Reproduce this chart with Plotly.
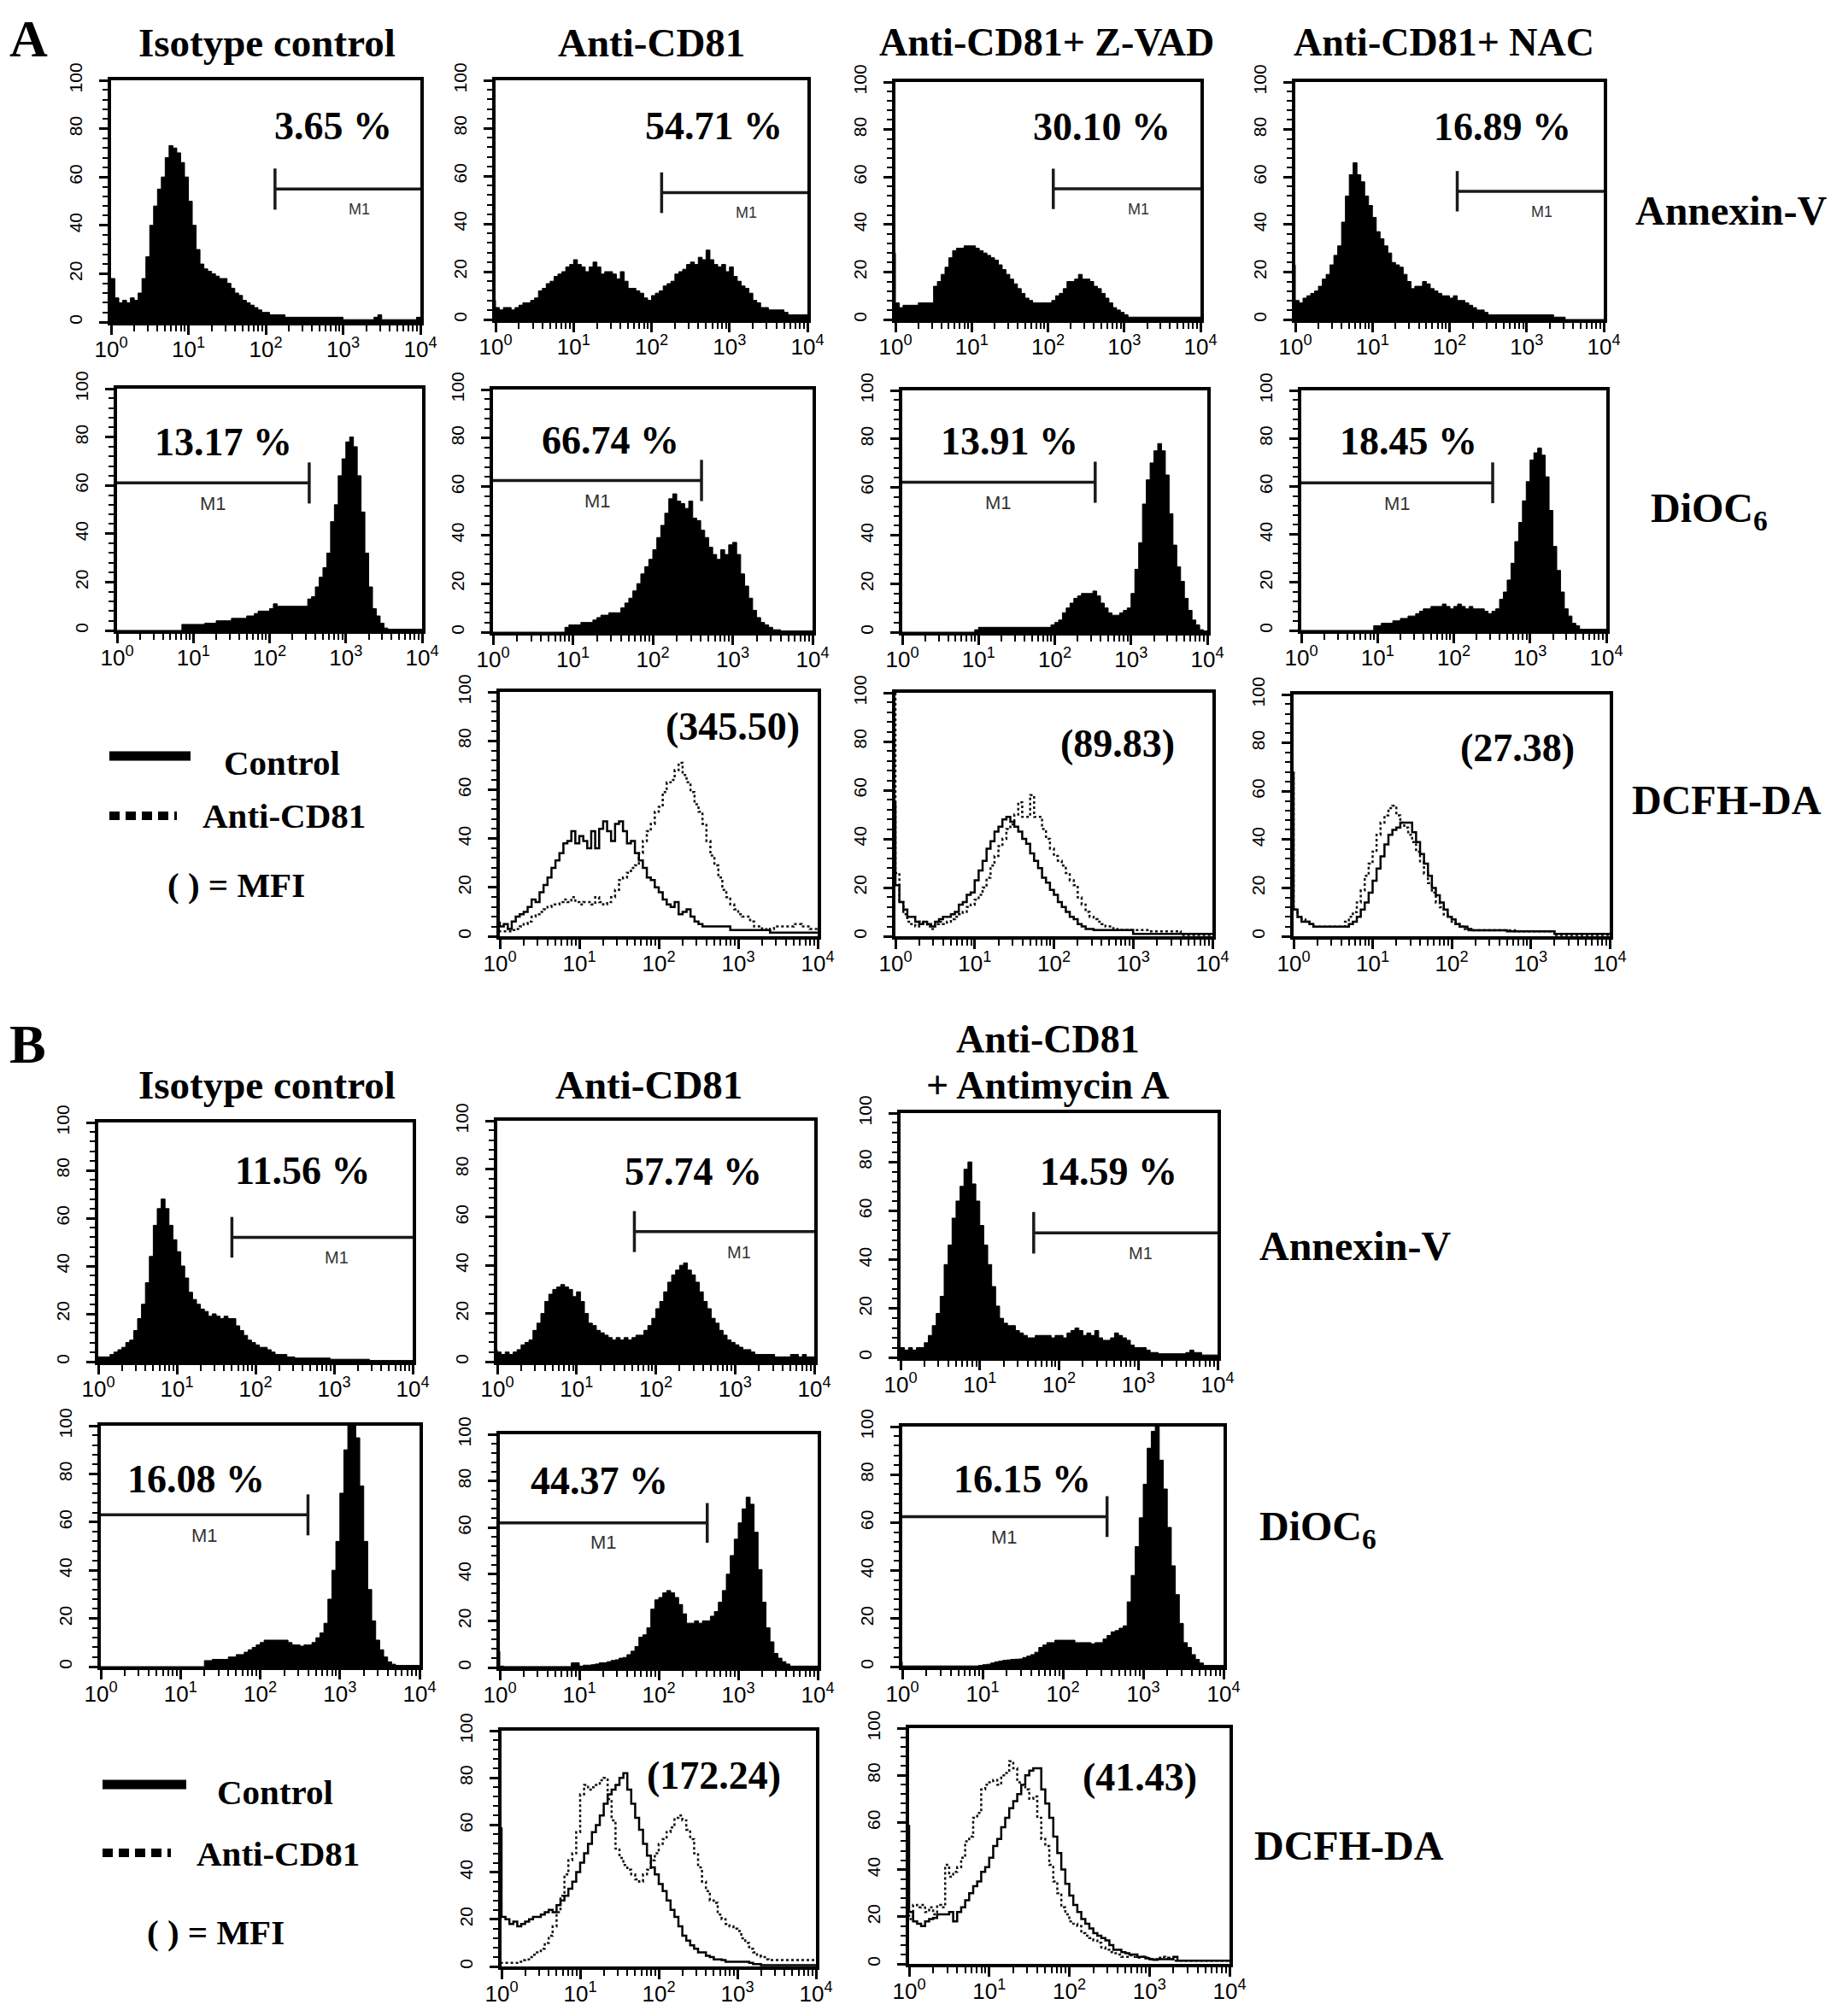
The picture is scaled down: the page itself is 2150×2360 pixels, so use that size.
import plotly.graph_objects as go

W, H = 2150, 2360          # browser window
OFF = 8                    # default page margin around the plot div
FW, FH = W - 18, H - 18    # figure size that fits inside the window without scrollbars

# channel positions on the log10 fluorescence scale (0.05 decade bins, 10^0 .. 10^4)
LOG_CH = [round(0.05 * i, 2) for i in range(81)]
DECADES = [1, 10, 100, 1000, 10000]
DECADE_TEXT = ["10<sup>0</sup>", "10<sup>1</sup>", "10<sup>2</sup>", "10<sup>3</sup>", "10<sup>4</sup>"]
COUNT_TICKS = [0, 20, 40, 60, 80, 100]

# ---------------- panel A : Annexin-V (filled histograms) ----------------
A_ANNEXIN_ISO = [
    10, 18, 10, 8, 9, 8, 10, 9, 12, 18,
    27, 40, 48, 55, 60, 68, 73, 72, 70, 66,
    60, 50, 40, 30, 24, 22, 21, 20, 19, 18,
    18, 16, 14, 12, 11, 9, 8, 7, 6, 5,
    4, 4, 3, 3, 3, 3, 2, 2, 2, 2,
    2, 2, 2, 2, 2, 2, 2, 2, 2, 2,
    2, 1, 1, 1, 1, 1, 1, 1, 1, 2,
    3, 1, 1, 1, 1, 1, 1, 1, 1, 1,
    2]
A_ANNEXIN_CD81 = [
    8, 5, 4, 5, 5, 4, 5, 6, 7, 7,
    8, 9, 12, 13, 15, 16, 18, 19, 20, 22,
    23, 25, 23, 22, 20, 22, 24, 22, 19, 20,
    20, 19, 17, 20, 16, 13, 13, 12, 11, 9,
    8, 10, 11, 12, 14, 15, 16, 19, 20, 21,
    23, 24, 23, 26, 25, 29, 25, 23, 22, 23,
    20, 22, 18, 16, 14, 13, 11, 8, 7, 5,
    5, 4, 4, 4, 4, 3, 2, 2, 2, 2,
    2]
A_ANNEXIN_ZVAD = [
    28, 7, 5, 6, 6, 6, 6, 7, 7, 7,
    7, 14, 16, 19, 22, 26, 29, 30, 30, 31,
    31, 31, 30, 29, 28, 27, 26, 25, 23, 21,
    19, 17, 15, 13, 11, 9, 8, 7, 7, 7,
    7, 7, 8, 10, 11, 13, 16, 16, 17, 19,
    17, 17, 16, 14, 13, 11, 9, 7, 5, 4,
    3, 2, 1, 1, 1, 1, 1, 1, 1, 1,
    1, 1, 1, 1, 1, 1, 1, 1, 1, 1,
    1]
A_ANNEXIN_NAC = [
    23, 8, 7, 9, 10, 11, 12, 14, 17, 19,
    23, 27, 31, 41, 52, 61, 66, 61, 58, 52,
    48, 43, 37, 34, 31, 28, 24, 23, 22, 19,
    16, 13, 14, 14, 16, 15, 13, 12, 11, 10,
    10, 9, 10, 8, 8, 7, 6, 5, 4, 4,
    3, 2, 2, 2, 2, 2, 2, 2, 2, 2,
    2, 2, 2, 2, 2, 2, 2, 2, 1, 1,
    1, 0, 0, 0, 0, 0, 0, 0, 0, 0,
    0]

# ---------------- panel A : DiOC6 (filled histograms) ----------------
A_DIOC6_ISO = [
    0, 0, 0, 0, 0, 0, 0, 0, 0, 0,
    0, 0, 0, 0, 0, 0, 0, 0, 2.5, 2.5,
    2.5, 2.5, 2.5, 2.5, 3, 3, 3, 4, 4, 4,
    4, 5, 5, 5, 5, 6, 6, 7, 8, 8,
    8, 9, 11, 10, 10, 10, 10, 10, 10, 10,
    10, 13, 14, 18, 22, 26, 32, 45, 52, 64,
    71, 78, 80, 76, 64, 49, 32, 18, 9, 6,
    3, 1, 0.5, 0.5, 0.5, 0.5, 0.5, 0.5, 0.5, 0.5,
    0.5]
A_DIOC6_CD81 = [
    0, 0, 0, 0, 0, 0, 0, 0, 0, 0,
    0, 0, 0, 0, 0, 0, 0, 0, 0, 2,
    3, 3, 3, 4, 4, 4, 5, 6, 7, 7,
    8, 8, 8, 10, 12, 14, 17, 20, 24, 27,
    30, 34, 39, 44, 49, 55, 57, 54, 53, 51,
    54, 47, 46, 42, 39, 35, 32, 30, 34, 32,
    36, 37, 32, 24, 19, 14, 9, 6, 4, 3,
    2, 1, 1, 0.5, 0.5, 0.5, 0.5, 0.5, 0.5, 0.5,
    0.5]
A_DIOC6_ZVAD = [
    0, 0, 0, 0, 0, 0, 0, 0, 0, 0,
    0, 0, 0, 0, 0, 0, 0, 0, 0, 0,
    1, 2, 2, 2, 2, 2, 2, 2, 2, 2,
    2, 2, 2, 2, 2, 2, 2, 2, 2, 2,
    3, 4, 5, 8, 10, 12, 14, 15, 16, 16,
    16, 17, 15, 12, 10, 8, 7, 7, 8, 9,
    10, 16, 26, 37, 53, 63, 70, 75, 78, 75,
    65, 49, 36, 27, 21, 14, 9, 5, 3, 1,
    0.5]
A_DIOC6_NAC = [
    0, 0, 0, 0, 0, 0, 0, 0, 0, 0,
    0, 0, 0, 0, 0, 0, 0, 0, 0, 0,
    2, 2, 3, 3, 3, 4, 4, 5, 5, 6,
    6, 7, 8, 9, 9, 10, 10, 10, 11, 10,
    9, 10, 11, 10, 9, 10, 9, 9, 9, 8,
    7, 8, 9, 13, 16, 21, 28, 37, 45, 54,
    62, 71, 74, 76, 73, 64, 50, 35, 25, 16,
    9, 6, 3, 2, 0.5, 0.5, 0.5, 0.5, 0.5, 0.5,
    0.5]

# ---------------- panel A : DCFH-DA (control = solid, anti-CD81 = dotted) ----------------
A_DCFH_CD81_CTRL = [
    6, 4, 5, 3, 6, 8, 9, 10, 12, 15,
    14, 18, 21, 24, 28, 31, 34, 38, 39, 43,
    38, 41, 39, 36, 43, 36, 44, 47, 43, 39,
    46, 47, 43, 38, 39, 34, 31, 28, 24, 23,
    20, 18, 15, 13, 12, 14, 9, 10, 11, 8,
    6, 5, 4, 4, 4, 4, 4, 4, 4, 2.5,
    2.5, 2.5, 2.5, 2.5, 2.5, 2.5, 2.5, 2.5, 2.5, 1.5,
    1.5, 1.5, 1.5, 1.5, 1.5, 1.5, 1.5, 1.5, 1.5, 1.5,
    1.5]
A_DCFH_CD81_TRT = [
    2.5, 2, 2, 2, 2.5, 3, 4, 5, 6, 8,
    9, 10, 11, 12, 13, 13, 14, 15, 14, 16,
    14, 13, 14, 14, 13, 16, 14, 13, 14, 16,
    19, 23, 24, 26, 28, 29, 34, 39, 43, 46,
    51, 53, 59, 63, 64, 68, 71, 66, 63, 59,
    54, 51, 46, 39, 33, 29, 24, 19, 16, 13,
    11, 9, 8, 8, 6, 4, 4, 3, 2.5, 3,
    4, 4, 4, 4, 4, 5, 5, 4, 4, 3,
    3]
A_DCFH_ZVAD_CTRL = [
    55, 21, 14, 11, 8, 8, 6, 5, 6, 5,
    4, 6, 7, 8, 8, 9, 10, 13, 14, 17,
    18, 23, 27, 31, 36, 39, 43, 45, 48, 49,
    47, 45, 43, 40, 38, 34, 31, 28, 24, 22,
    19, 17, 14, 12, 10, 8, 7, 5, 4, 3,
    3, 2.5, 2.5, 2.5, 2.5, 2.5, 2.5, 2.5, 2.5, 2.5,
    2.5, 1, 1, 1, 1, 1, 1, 1, 1, 1,
    1, 1, 1, 1, 1, 1, 1, 1, 1, 1,
    1]
A_DCFH_ZVAD_TRT = [
    100, 26, 14, 9, 6, 5, 4, 6, 5, 4,
    3, 5, 6, 5, 6, 7, 8, 9, 10, 12,
    13, 15, 17, 20, 24, 29, 33, 37, 40, 44,
    46, 50, 55, 49, 49, 58, 49, 49, 44, 40,
    36, 33, 31, 29, 26, 23, 21, 16, 13, 10,
    8, 7, 6, 5, 4, 4, 3, 2.5, 2.5, 2.5,
    2.5, 2.5, 2.5, 2.5, 2.5, 2, 2, 2, 2, 2,
    2, 2, 2, 0.5, 0.5, 0.5, 0.5, 0.5, 0.5, 0.5,
    0.5]
A_DCFH_NAC_CTRL = [
    68, 11, 8, 6, 6, 5, 4, 4, 4, 4,
    4, 4, 4, 4, 4, 5, 6, 8, 11, 14,
    18, 23, 28, 33, 38, 42, 44, 45, 47, 47,
    47, 43, 39, 34, 30, 25, 20, 17, 14, 11,
    8, 7, 5, 4, 4, 3, 2.5, 2.5, 2.5, 2.5,
    2.5, 2.5, 2.5, 2.5, 2.5, 2, 2, 2, 2, 2,
    2, 2, 2, 2, 2, 2, 2, 1, 1, 1,
    1, 1, 1, 1, 1, 1, 1, 1, 1, 1,
    1]
A_DCFH_NAC_TRT = [
    68, 11, 8, 7, 6, 5, 4, 4, 4, 4,
    4, 4, 4, 4, 6, 8, 10, 14, 19, 25,
    30, 35, 42, 47, 50, 53, 54, 50, 47, 45,
    42, 39, 35, 31, 26, 22, 18, 14, 12, 9,
    8, 6, 5, 4, 3, 2.5, 2.5, 2.5, 2.5, 2.5,
    2.5, 2.5, 2.5, 2.5, 2.5, 2.5, 2.5, 2, 2, 2,
    2, 2, 2, 2, 2, 2, 2, 0.5, 0.5, 0.5,
    0.5, 0.5, 0.5, 0.5, 0.5, 0.5, 0.5, 0.5, 0.5, 0.5,
    0.5]

# ---------------- panel B : Annexin-V ----------------
B_ANNEXIN_ISO = [
    2, 2, 2, 2, 3, 4, 5, 6, 8, 9,
    13, 18, 24, 33, 44, 57, 64, 68, 64, 57,
    51, 46, 40, 35, 29, 26, 24, 22, 21, 19,
    20, 19, 18, 19, 18, 18, 15, 13, 11, 9,
    8, 7, 6, 6, 5, 4, 3, 3, 3, 2,
    2, 1.5, 1.5, 1.5, 1.5, 1.5, 1.5, 1.5, 1.5, 1.5,
    1, 1, 1, 1, 1, 1, 1, 1, 1, 1,
    0.5, 0.5, 0.5, 0.5, 0.5, 0.5, 0.5, 0.5, 0.5, 0.5,
    0.5]
B_ANNEXIN_CD81 = [
    5, 4, 3, 4, 3, 4, 5, 7, 8, 9,
    13, 16, 20, 25, 28, 30, 31, 32, 31, 30,
    27, 29, 25, 20, 16, 15, 13, 12, 11, 10,
    9, 10, 9, 10, 9, 10, 11, 11, 13, 15,
    18, 22, 25, 29, 33, 36, 38, 40, 41, 38,
    36, 33, 29, 25, 22, 18, 16, 13, 11, 9,
    8, 7, 6, 5, 5, 4, 3, 3, 3, 3,
    3, 2, 2, 2, 2, 3, 3, 2, 3, 2,
    2]
B_ANNEXIN_ANTIMYCIN = [
    3, 4, 3, 4, 3, 4, 4, 6, 9, 13,
    18, 25, 38, 46, 57, 64, 70, 77, 80, 71,
    64, 54, 46, 38, 29, 21, 16, 14, 13, 13,
    11, 10, 9, 8, 8, 9, 9, 9, 9, 8,
    9, 9, 8, 10, 11, 12, 11, 9, 10, 9,
    11, 8, 7, 7, 8, 10, 9, 8, 7, 5,
    4, 4, 4, 3, 2, 2, 1.5, 1.5, 1.5, 1.5,
    1.5, 1.5, 1.5, 2, 3, 2, 2, 1, 1, 1,
    1]

# ---------------- panel B : DiOC6 ----------------
B_DIOC6_ISO = [
    0, 0, 0, 0, 0, 0, 0, 0, 0, 0,
    0, 0, 0, 0, 0, 0, 0, 0, 0, 0,
    0, 0, 0, 0, 0, 0, 0, 2.5, 2.5, 3,
    3, 3, 3, 4, 4, 5, 5, 6, 7, 8,
    9, 10, 11, 11, 11, 11, 11, 11, 10, 9,
    9, 8.5, 9, 9, 10, 12, 14, 18, 28, 40,
    52, 72, 90, 100, 100, 95, 75, 52, 32, 19,
    11, 7, 4, 2, 1, 0.5, 0.5, 0.5, 0.5, 0.5,
    0.5]
B_DIOC6_CD81 = [
    7, 0.6, 0.4, 0.4, 0.4, 0.4, 0.4, 0.4, 0.4, 0.4,
    0.4, 0.4, 0.4, 0.4, 0.4, 0.4, 0.4, 0.4, 0.4, 2,
    2, 0.6, 1, 1, 1.2, 1.5, 2, 2, 2.5, 3,
    3.3, 4, 4.3, 5.5, 7, 9, 13, 14, 17, 25,
    29, 30, 32, 33, 32, 30, 27, 23, 19, 19,
    20, 19, 20, 20, 22, 24, 28, 33, 40, 48,
    55, 62, 68, 73, 70, 58, 42, 28, 17, 11,
    6, 4, 2.5, 1.5, 0.6, 0.6, 0.6, 0.6, 0.6, 0.6,
    0.6]
B_DIOC6_ANTIMYCIN = [
    2, 0.3, 0.3, 0.3, 0.3, 0.3, 0.3, 0.3, 0.3, 0.3,
    0.3, 0.3, 0.3, 0.3, 0.3, 0.3, 0.3, 0.3, 0.3, 0.3,
    0.5, 0.8, 1, 1.5, 2, 2.3, 2.6, 2.8, 3, 3.1,
    3.2, 3.8, 4.4, 5, 6, 8, 9, 10, 10, 11,
    11, 11, 11, 11, 10, 10, 10, 10, 9.5, 10,
    10, 11.5, 13, 14.5, 15, 16, 17, 27, 38, 50,
    62, 76, 91, 98, 100, 86, 74, 58, 42, 30,
    18, 10, 8, 5, 3, 1.5, 0.5, 0.5, 0.5, 0.5,
    0.5]

# ---------------- panel B : DCFH-DA ----------------
B_DCFH_CD81_CTRL = [
    59, 21, 20, 18, 19, 17, 18, 19, 20, 21,
    21, 22, 23, 24, 23, 26, 28, 30, 33, 36,
    40, 44, 48, 52, 57, 60, 64, 69, 73, 75,
    77, 80, 82, 75, 69, 63, 58, 52, 47, 42,
    39, 35, 32, 28, 24, 21, 17, 13, 11, 9,
    7.5, 6, 6, 4.5, 4, 3, 3, 2.7, 2, 2,
    2, 2, 2, 2, 1.5, 1, 1, 0.5, 0.5, 0.5,
    0.5, 0.5, 0.5, 0.5, 0.5, 0.5, 0.5, 0.5, 0.5, 0.5,
    0.5]
B_DCFH_CD81_TRT = [
    2, 1.5, 1.5, 1.5, 1.5, 2, 2.7, 3, 4, 5,
    6, 7.5, 10, 13, 17, 23, 30, 39, 45, 48,
    57, 73, 77, 75, 76, 77, 79, 80, 71, 62,
    50, 46, 43, 41, 39, 37, 36, 39, 41, 45,
    48, 52, 54, 57, 59, 63, 64, 62, 58, 54,
    48, 42, 36, 32, 28, 27, 22, 20, 18, 17,
    16, 15, 12, 10, 7.5, 6, 4.5, 4, 3, 2.7,
    2.7, 2.7, 2.7, 2.7, 2.7, 2.7, 2.7, 2.7, 2.7, 2.7,
    2.7]
B_DCFH_ANTIMYCIN_CTRL = [
    59, 22, 18, 17, 16, 18, 19, 19.5, 21, 21,
    21, 22, 18, 22, 24, 27, 30, 33, 35, 39,
    41, 45, 50, 53, 58, 62, 66, 69, 72, 76,
    80, 82, 83, 83, 74, 68, 62, 54, 47, 40,
    34, 29, 25, 22, 19, 17, 15, 13, 12, 11,
    10, 8, 6, 6, 5, 4.5, 4, 4, 3, 3,
    2.4, 2, 1.7, 2, 2, 2, 2, 3, 1.4, 1.4,
    1.4, 1.4, 1.4, 1.4, 1.4, 1.4, 1.4, 1.4, 1.4, 1.4,
    1.4]
B_DCFH_ANTIMYCIN_TRT = [
    21, 19, 25, 24, 25, 22, 24, 21, 25, 24,
    42, 37, 39, 41, 45, 52, 54, 62, 64, 74,
    76, 77, 78, 76, 80, 81, 86, 83, 77, 76,
    74, 70, 71, 62, 53, 50, 42, 35, 30, 24,
    21, 18, 17, 16, 13, 12, 11, 10, 9, 7,
    6, 5, 4.5, 4, 3, 3, 3.6, 3, 2.6, 3,
    2.6, 2, 2, 2.6, 3, 2.6, 2, 1.4, 1.4, 1.4,
    1.4, 1.4, 1.4, 1.4, 1.4, 1.4, 1.4, 1.4, 1.4, 1.4,
    1.4]

# ---------------- labels and gates ----------------
A_ANNEXIN_PCT = ["3.65 %", "54.71 %", "30.10 %", "16.89 %"]
A_DIOC6_PCT = ["13.17 %", "66.74 %", "13.91 %", "18.45 %"]
A_DCFH_MFI = ["(345.50)", "(89.83)", "(27.38)"]
B_ANNEXIN_PCT = ["11.56 %", "57.74 %", "14.59 %"]
B_DIOC6_PCT = ["16.08 %", "44.37 %", "16.15 %"]
B_DCFH_MFI = ["(172.24)", "(41.43)"]

# M1 gate: cut position (log10) and marker level (% of max)
A_ANNEXIN_GATE_CUT = [2.12, 2.13, 2.07, 2.10]
A_ANNEXIN_GATE_LEVEL = [55, 53, 55, 54]
A_DIOC6_GATE_CUT = [2.52, 2.61, 2.53, 2.51]
A_DIOC6_GATE_LEVEL = [61, 62.5, 62, 61.5]
B_ANNEXIN_GATE_CUT = [1.70, 1.73, 1.68]
B_ANNEXIN_GATE_LEVEL = [52, 54, 51]
B_DIOC6_GATE_CUT = [2.60, 2.61, 2.55]
B_DIOC6_GATE_LEVEL = [63, 62, 62.5]

SERIF = "Liberation Serif"
SANS = "Liberation Sans"
ch_x = [10 ** v for v in LOG_CH]
minor_x = [m * 10 ** d for d in range(4) for m in range(2, 10)]


def fx(px):
    # window pixel -> paper x
    return (px - OFF) / FW


def fy(py):
    # window pixel -> paper y
    return 1 - (py - OFF) / FH


fig = go.Figure()
annotations = []
shapes = []
panel_no = [0]


def add_panel(box, filled=None, lines=None, label=None, label_xy=None, gate=None, m1_size=16):
    panel_no[0] += 1
    n = panel_no[0]
    s = "" if n == 1 else str(n)
    xname, yname = "x" + s, "y" + s
    l, r, t, b = box
    fig.update_layout(**{
        "xaxis" + s: dict(
            domain=[fx(l), fx(r)], anchor=yname, type="log", range=[0, 4],
            tickmode="array", tickvals=DECADES, ticktext=DECADE_TEXT,
            ticks="outside", ticklen=11, tickwidth=3, tickcolor="black",
            minor=dict(tickmode="array", tickvals=minor_x, ticks="outside",
                       ticklen=7, tickwidth=2, tickcolor="black"),
            showline=True, linewidth=4, linecolor="black", mirror=True,
            showgrid=False, zeroline=False, ticklabelstandoff=-5, automargin=False,
            tickfont=dict(family=SANS, size=26, color="black")),
        "yaxis" + s: dict(
            domain=[fy(b), fy(t)], anchor=xname, range=[0, 100],
            tickmode="array", tickvals=COUNT_TICKS, tickangle=-90,
            ticks="outside", ticklen=10, tickwidth=3, tickcolor="black",
            minor=dict(dtick=4, ticks="outside", ticklen=6, tickwidth=2, tickcolor="black"),
            showline=True, linewidth=4, linecolor="black", mirror=True,
            showgrid=False, zeroline=False, ticklabelstandoff=12, automargin=False,
            tickfont=dict(family=SANS, size=21, color="black")),
    })
    if filled is not None:
        fig.add_trace(go.Scatter(
            x=ch_x, y=filled, xaxis=xname, yaxis=yname, mode="lines",
            line=dict(color="black", width=1, shape="vh"),
            fill="tozeroy", fillcolor="black", hoverinfo="skip"))
    if lines is not None:
        ctrl, trt = lines
        fig.add_trace(go.Scatter(
            x=ch_x, y=trt, xaxis=xname, yaxis=yname, mode="lines",
            line=dict(color="#111111", width=2.5, shape="vh", dash="dot"), hoverinfo="skip"))
        fig.add_trace(go.Scatter(
            x=ch_x, y=ctrl, xaxis=xname, yaxis=yname, mode="lines",
            line=dict(color="black", width=2.5, shape="vh"), hoverinfo="skip"))
    if gate is not None:
        side, cut, level = gate
        if side == "right":
            hx = [10 ** cut, 10 ** 4]
            m1_x = cut + 0.58 * (4 - cut)
        else:
            hx = [1, 10 ** cut]
            m1_x = 0.5 * cut
        fig.add_trace(go.Scatter(
            x=hx + [None, 10 ** cut, 10 ** cut],
            y=[level, level, None, level - 8.5, level + 8.5],
            xaxis=xname, yaxis=yname, mode="lines",
            line=dict(color="#1a1a1a", width=3.5), hoverinfo="skip"))
        annotations.append(dict(
            x=m1_x, y=level - 8.5, xref=xname, yref=yname, text="M1", showarrow=False,
            font=dict(family=SANS, size=m1_size, color="#333333")))
    if label is not None:
        annotations.append(dict(
            x=label_xy[0], y=label_xy[1], xref=xname, yref=yname, text="<b>%s</b>" % label,
            showarrow=False, font=dict(family=SERIF, size=46, color="black")))


# ---- panel A, Annexin-V row ----
a_ann = [A_ANNEXIN_ISO, A_ANNEXIN_CD81, A_ANNEXIN_ZVAD, A_ANNEXIN_NAC]
a_ann_box = [(130, 492, 94, 377), (580, 945, 94, 374), (1048, 1405, 96, 374), (1516, 1877, 96, 374)]
a_ann_lbl = [(2.87, 81), (2.80, 81), (2.71, 81), (2.69, 81)]
for i in range(4):
    add_panel(a_ann_box[i], filled=a_ann[i], label=A_ANNEXIN_PCT[i], label_xy=a_ann_lbl[i],
              gate=("right", A_ANNEXIN_GATE_CUT[i], A_ANNEXIN_GATE_LEVEL[i]), m1_size=18)

# ---- panel A, DiOC6 row ----
a_dio = [A_DIOC6_ISO, A_DIOC6_CD81, A_DIOC6_ZVAD, A_DIOC6_NAC]
a_dio_box = [(137, 494, 455, 738), (577, 951, 456, 740), (1056, 1413, 457, 740), (1523, 1880, 457, 738)]
a_dio_lbl = [(1.39, 78), (1.47, 79), (1.41, 79), (1.41, 79)]
for i in range(4):
    add_panel(a_dio_box[i], filled=a_dio[i], label=A_DIOC6_PCT[i], label_xy=a_dio_lbl[i],
              gate=("left", A_DIOC6_GATE_CUT[i], A_DIOC6_GATE_LEVEL[i]), m1_size=22)

# ---- panel A, DCFH-DA row ----
a_dcf = [(A_DCFH_CD81_CTRL, A_DCFH_CD81_TRT), (A_DCFH_ZVAD_CTRL, A_DCFH_ZVAD_TRT),
         (A_DCFH_NAC_CTRL, A_DCFH_NAC_TRT)]
a_dcf_box = [(585, 957, 810, 1096), (1048, 1419, 811, 1096), (1514, 1884, 813, 1096)]
a_dcf_lbl = [(2.93, 86), (2.80, 79), (2.83, 78)]
for i in range(3):
    add_panel(a_dcf_box[i], lines=a_dcf[i], label=A_DCFH_MFI[i], label_xy=a_dcf_lbl[i])

# ---- panel B, Annexin-V row ----
b_ann = [B_ANNEXIN_ISO, B_ANNEXIN_CD81, B_ANNEXIN_ANTIMYCIN]
b_ann_box = [(115, 483, 1314, 1594), (582, 953, 1312, 1594), (1054, 1425, 1303, 1589)]
b_ann_lbl = [(2.60, 80), (2.47, 79), (2.62, 76)]
for i in range(3):
    add_panel(b_ann_box[i], filled=b_ann[i], label=B_ANNEXIN_PCT[i], label_xy=b_ann_lbl[i],
              gate=("right", B_ANNEXIN_GATE_CUT[i], B_ANNEXIN_GATE_LEVEL[i]), m1_size=20)

# ---- panel B, DiOC6 row ----
b_dio = [B_DIOC6_ISO, B_DIOC6_CD81, B_DIOC6_ANTIMYCIN]
b_dio_box = [(118, 491, 1669, 1951), (585, 957, 1679, 1952), (1056, 1432, 1670, 1951)]
b_dio_lbl = [(1.20, 78), (1.25, 80), (1.49, 78)]
for i in range(3):
    add_panel(b_dio_box[i], filled=b_dio[i], label=B_DIOC6_PCT[i], label_xy=b_dio_lbl[i],
              gate=("left", B_DIOC6_GATE_CUT[i], B_DIOC6_GATE_LEVEL[i]), m1_size=22)

# ---- panel B, DCFH-DA row ----
b_dcf = [(B_DCFH_CD81_CTRL, B_DCFH_CD81_TRT), (B_DCFH_ANTIMYCIN_CTRL, B_DCFH_ANTIMYCIN_TRT)]
b_dcf_box = [(587, 955, 2026, 2302), (1064, 1439, 2023, 2299)]
b_dcf_lbl = [(2.70, 81), (2.88, 79)]
for i in range(2):
    add_panel(b_dcf_box[i], lines=b_dcf[i], label=B_DCFH_MFI[i], label_xy=b_dcf_lbl[i])


def paper_text(x, y, text, size, xanchor="center", yanchor="middle"):
    annotations.append(dict(
        x=fx(x), y=fy(y), xref="paper", yref="paper", xanchor=xanchor, yanchor=yanchor,
        text="<b>%s</b>" % text, showarrow=False, font=dict(family=SERIF, size=size, color="black")))


# panel letters
paper_text(33, 9, "A", 62, yanchor="top")
paper_text(32, 1222, "B", 64)

# column titles
paper_text(312, 50, "Isotype control", 47)
paper_text(762, 50, "Anti-CD81", 47)
paper_text(1225, 50, "Anti-CD81+ Z-VAD", 46)
paper_text(1690, 50, "Anti-CD81+ NAC", 46)
paper_text(312, 1270, "Isotype control", 47)
paper_text(759, 1270, "Anti-CD81", 47)
paper_text(1226, 1216, "Anti-CD81", 46)
paper_text(1226, 1270, "+ Antimycin A", 46)

# row labels
paper_text(1912, 247, "Annexin-V", 48, "left")
paper_text(1930, 598, "DiOC<sub>6</sub>", 48, "left")
paper_text(1908, 936, "DCFH-DA", 48, "left")
paper_text(1472, 1459, "Annexin-V", 48, "left")
paper_text(1472, 1790, "DiOC<sub>6</sub>", 48, "left")
paper_text(1466, 2160, "DCFH-DA", 48, "left")

# line-style keys
for (sx0, sx1, sy, dx1, dy, tc, ty, ac, ay, mc, my) in [
        (128, 223, 885, 207, 955, 330, 893, 332, 955, 276, 1036),
        (120, 218, 2089, 200, 2169, 322, 2098, 325, 2170, 252, 2262)]:
    shapes.append(dict(type="line", xref="paper", yref="paper", x0=fx(sx0), x1=fx(sx1),
                       y0=fy(sy), y1=fy(sy), line=dict(color="black", width=11)))
    shapes.append(dict(type="line", xref="paper", yref="paper", x0=fx(sx0), x1=fx(dx1),
                       y0=fy(dy), y1=fy(dy),
                       line=dict(color="black", width=10, dash="12px,7px")))
    paper_text(tc, ty, "Control", 41)
    paper_text(ac, ay, "Anti-CD81", 41)
    paper_text(mc, my, "( ) = MFI", 41)

fig.update_layout(
    width=FW, height=FH, autosize=False,
    margin=dict(l=0, r=0, t=0, b=0, pad=0, autoexpand=False),
    paper_bgcolor="white", plot_bgcolor="white",
    showlegend=False,
    annotations=annotations, shapes=shapes,
)

fig.write_html("out.html", config={"displayModeBar": False})
